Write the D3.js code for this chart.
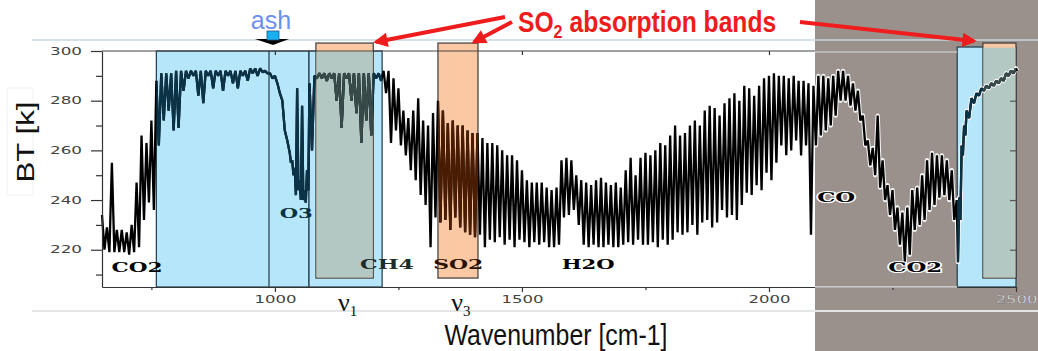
<!DOCTYPE html>
<html>
<head>
<meta charset="utf-8">
<script src="https://cdn.jsdelivr.net/npm/d3@7"></script>
<style>
  body { margin: 0; background: #fff; }
  svg { display: block; }
</style>
</head>
<body>
<svg id="chart" width="1038" height="351"></svg>
<script>
// spectrum: wavenumber [cm-1], upper envelope BT [K], dip BT [K]
const wavenumber = [
  650, 660, 670, 680, 690, 700, 710, 720, 730, 740, 750, 760, 770, 780, 790, 800, 810, 820, 830, 840,
  850, 860, 870, 880, 890, 900, 910, 920, 930, 940, 950, 960, 970, 980, 990, 1000, 1010, 1020, 1030, 1035,
  1040, 1045, 1050, 1055, 1060, 1065, 1070, 1080, 1090, 1100, 1110, 1120, 1130, 1140, 1150, 1160, 1170, 1180, 1190, 1200,
  1210, 1220, 1230, 1240, 1250, 1260, 1270, 1280, 1290, 1300, 1310, 1320, 1330, 1340, 1350, 1360, 1370, 1380, 1390, 1400,
  1410, 1420, 1430, 1440, 1450, 1460, 1470, 1480, 1490, 1500, 1510, 1520, 1530, 1540, 1550, 1560, 1570, 1580, 1590, 1600,
  1610, 1620, 1630, 1640, 1650, 1660, 1670, 1680, 1690, 1700, 1710, 1720, 1730, 1740, 1750, 1760, 1770, 1780, 1790, 1800,
  1810, 1820, 1830, 1840, 1850, 1860, 1870, 1880, 1890, 1900, 1910, 1920, 1930, 1940, 1950, 1960, 1970, 1980, 1990, 2000,
  2010, 2020, 2030, 2040, 2050, 2060, 2070, 2080, 2090, 2100, 2110, 2120, 2130, 2140, 2150, 2160, 2170, 2180, 2190, 2200,
  2210, 2220, 2230, 2240, 2250, 2260, 2270, 2280, 2290, 2300, 2310, 2320, 2330, 2340, 2350, 2360, 2370, 2380, 2385, 2390,
  2395, 2400, 2410, 2420, 2430, 2440, 2450, 2460, 2470, 2480, 2490, 2500
];
const btTop = [
  234, 229, 255, 228, 228, 227, 230, 247, 266, 263, 272, 288, 291, 291, 291, 292, 292, 292, 292, 292,
  292, 292, 292, 292, 292, 292, 292, 292, 292, 292, 293, 293, 293, 292, 291, 290, 283, 268, 259, 256,
  253, 285, 248, 278, 244, 252, 287, 290, 291, 291, 291, 291, 291, 291, 291, 291, 291, 291, 291, 291,
  291, 292, 292, 289, 285, 276, 273, 276, 281, 272, 270, 275, 280, 276, 271, 272, 270, 270, 268, 267,
  267, 265, 263, 263, 262, 260, 258, 258, 256, 252, 248, 247, 247, 247, 245, 244, 245, 256, 257, 256,
  250, 248, 247, 246, 248, 249, 247, 246, 247, 245, 252, 257, 250, 257, 259, 258, 260, 263, 262, 266,
  270, 266, 267, 270, 272, 270, 276, 278, 277, 274, 279, 281, 283, 280, 286, 285, 282, 286, 289, 290,
  291, 290, 290, 289, 290, 288, 288, 287, 286, 290, 290, 289, 290, 292, 292, 290, 287, 284, 274, 264,
  261, 274, 256, 246, 244, 237, 235, 237, 244, 245, 250, 256, 259, 258, 258, 256, 252, 240, 241, 262,
  270, 276, 281, 283, 285, 286, 287, 288, 289, 291, 292, 293
];
const btDip = [
  220, 219, 219, 219, 219, 218, 219, 221, 232, 239, 236, 262, 272, 276, 268, 269, 284, 289, 290, 282,
  279, 290, 285, 290, 284, 290, 287, 285, 290, 288, 291, 290, 291.5, 291, 289, 287, 280, 264, 255, 250,
  242, 244, 240, 240, 239, 244, 260, 289, 289, 288, 289, 280, 269, 289, 280, 275, 263, 272, 266, 289,
  288, 283, 263, 268, 262, 258, 252, 248, 242, 238, 221, 233, 231, 232, 228, 233, 229, 227, 226, 225,
  226, 221, 224, 223, 225, 222, 224, 221, 224, 223, 221, 223, 222, 223, 221, 221, 222, 233, 234, 236,
  230, 222, 221, 222, 221, 221, 222, 221, 221, 222, 223, 222, 224, 222, 222, 223, 221, 224, 222, 224,
  227, 226, 227, 230, 226, 231, 232, 229, 231, 236, 233, 234, 232, 238, 243, 242, 246, 244, 251, 248,
  255, 262, 258, 260, 264, 258, 262, 226, 262, 266, 268, 270, 274, 280, 280, 278, 276, 272, 262, 254,
  250, 245, 240, 234, 228, 222, 215, 218, 228, 230, 232, 236, 238, 241, 242, 240, 232, 215, 232, 258,
  266, 273, 279, 282, 284, 285, 286, 287, 288, 290, 291, 292
];

const yTicks = [220, 240, 260, 280, 300];
const yMinorTicks = [210, 230, 250, 270, 290];
const xTicks = [1000, 1500, 2000, 2500];
const xMinorTicks = [750, 1250, 1750, 2250];

// atmospheric window (blue) and SO2 bands (orange), in cm-1
const windowBands = [[760, 1069], [1069, 1217], [2381, 2500]];
const so2Bands = [[1083, 1199], [1330, 1411], [2433, 2500]];
const so2BandNames = ['1', '3', ''];
const ashWavenumber = 988;

const gasLabels = ['CO2', 'O3', 'CH4', 'SO2', 'H2O', 'CO', 'CO2'];
const gasLabelWn = [721, 1043, 1227, 1371, 1634, 2136, 2296];
const gasLabelBt = [213.0, 234.8, 214.3, 214.3, 214.3, 241.2, 213.0];

const svg = d3.select('#chart');
const x = d3.scaleLinear().domain([650, 2500]).range([102, 1016]);
const y = d3.scaleLinear().domain([205, 300]).range([287, 51]);
const greyX = 815;

// grey panel on the right
svg.append('rect').attr('x', greyX).attr('y', 0).attr('width', 1038 - greyX).attr('height', 351)
  .attr('fill', '#9b918c');

// light frame lines of the pasted plot
svg.append('line').attr('x1', 32).attr('x2', 1038).attr('y1', 40).attr('y2', 40)
  .attr('stroke', '#c6d7df').attr('stroke-width', 1.5);
svg.append('line').attr('x1', 32).attr('x2', 1038).attr('y1', 311).attr('y2', 311)
  .attr('stroke', '#e6e6e6').attr('stroke-width', 2);
svg.append('rect').attr('x', 7).attr('y', 88).attr('width', 26).attr('height', 107)
  .attr('fill', '#fff').attr('stroke', '#f2f2f2');

// bands
const blueTop = [300, 300, 301.6];
windowBands.forEach((b, i) => {
  svg.append('rect')
    .attr('x', x(b[0])).attr('y', y(blueTop[i]))
    .attr('width', x(b[1]) - x(b[0])).attr('height', y(205) - y(blueTop[i]))
    .attr('fill', '#b6e6fa').attr('stroke', '#1f3b4b').attr('stroke-width', 1.2);
});
so2Bands.forEach((b, i) => {
  svg.append('rect')
    .attr('x', x(b[0])).attr('y', y(303.2))
    .attr('width', x(b[1]) - x(b[0])).attr('height', y(208.6) - y(303.2))
    .attr('fill', '#fbc8a4').attr('stroke', '#3b3b3b').attr('stroke-width', 1.2);
  if (i !== 1) {
    const top = i === 0 ? 300 : 301.6;
    svg.append('rect')
      .attr('x', x(b[0]) + 0.6).attr('y', y(top) + 0.6)
      .attr('width', x(b[1]) - x(b[0]) - 1.2).attr('height', y(208.6) - y(top) - 1.2)
      .attr('fill', '#b4c8c3');
  }
});

// clip paths for the curve colours
const defs = svg.append('defs');
defs.append('clipPath').attr('id', 'clipGrey').append('rect')
  .attr('x', greyX).attr('y', 0).attr('width', 1038 - greyX).attr('height', 351);
const cb = defs.append('clipPath').attr('id', 'clipBlue');
windowBands.forEach(b => {
  cb.append('rect').attr('x', x(b[0])).attr('y', 0).attr('width', x(b[1]) - x(b[0])).attr('height', 351);
});
const cm = defs.append('clipPath').attr('id', 'clipMix');
[so2Bands[0], so2Bands[2]].forEach(b => {
  cm.append('rect').attr('x', x(b[0])).attr('y', 0).attr('width', x(b[1]) - x(b[0])).attr('height', 351);
});
defs.append('clipPath').attr('id', 'clipBrown').append('rect')
  .attr('x', x(so2Bands[1][0])).attr('y', 0)
  .attr('width', x(so2Bands[1][1]) - x(so2Bands[1][0])).attr('height', 351);

// spectrum as a zig-zag through envelope and dips
const points = [];
wavenumber.forEach((w, i) => {
  const next = i < wavenumber.length - 1 ? wavenumber[i + 1] : w + 5;
  points.push([w, btTop[i]]);
  points.push([(w + next) / 2, btDip[i]]);
});
const line = d3.line().x(d => x(d[0])).y(d => y(d[1]));
const curve = line(points);

svg.append('path').attr('d', curve).attr('clip-path', 'url(#clipGrey)')
  .attr('fill', 'none').attr('stroke', '#f4f4f4').attr('stroke-width', 4.4).attr('stroke-linejoin', 'round');
[['#000', null], ['#0a3347', 'clipBlue'], ['#3a4a48', 'clipMix'], ['#4a1c02', 'clipBrown']].forEach(c => {
  const p = svg.append('path').attr('d', curve)
    .attr('fill', 'none').attr('stroke', c[0]).attr('stroke-width', 2.3).attr('stroke-linejoin', 'bevel');
  if (c[1]) p.attr('clip-path', `url(#${c[1]})`);
});

// ash marker line
svg.append('line').attr('x1', x(ashWavenumber)).attr('x2', x(ashWavenumber))
  .attr('y1', y(300)).attr('y2', y(205)).attr('stroke', '#1f3b4b').attr('stroke-width', 1.2);

// axes
svg.append('line').attr('x1', 102).attr('x2', greyX).attr('y1', 51).attr('y2', 51)
  .attr('stroke', '#444').attr('stroke-width', 1.2);
svg.append('line').attr('x1', greyX).attr('x2', x(2381)).attr('y1', 52).attr('y2', 52)
  .attr('stroke', '#d9dde0').attr('stroke-width', 1.2);

function styleAxis(g, col) {
  g.selectAll('path, line').attr('stroke', col).attr('stroke-width', 1.2);
  g.selectAll('text').attr('fill', '#444').attr('font-family', 'DejaVu Sans, sans-serif')
    .attr('font-size', 10).attr('lengthAdjust', 'spacingAndGlyphs')
    .attr('textLength', d => String(d).length === 4 ? 42 : 32);
}

const yAxis = svg.append('g').attr('transform', 'translate(102,0)')
  .call(d3.axisLeft(y).tickValues(yTicks).tickSize(11).tickPadding(9).tickSizeOuter(0)
    .tickFormat(d3.format('d')));
styleAxis(yAxis, '#333');
const yMinor = svg.append('g').attr('transform', 'translate(102,0)')
  .call(d3.axisLeft(y).tickValues(yMinorTicks).tickSize(6).tickFormat(''));
yMinor.select('.domain').remove();
styleAxis(yMinor, '#333');

const xAxis = svg.append('g').attr('transform', 'translate(0,287)')
  .call(d3.axisBottom(x).tickValues(xTicks).tickSize(5).tickPadding(4).tickSizeOuter(0)
    .tickFormat(d3.format('d')));
styleAxis(xAxis, '#333');
xAxis.selectAll('.tick').filter(d => d === 2500).select('text')
  .attr('fill', '#f0f0f0').attr('stroke', '#666').attr('stroke-width', 0.3);
const xMinor = svg.append('g').attr('transform', 'translate(0,287)')
  .call(d3.axisBottom(x).tickValues(xMinorTicks).tickSize(3).tickFormat(''));
xMinor.select('.domain').remove();
styleAxis(xMinor, '#333');
svg.append('line').attr('x1', greyX).attr('x2', x(2381)).attr('y1', 287).attr('y2', 287)
  .attr('stroke', '#dcdcdc').attr('stroke-width', 1.4);

const xTop = svg.append('g').attr('transform', 'translate(0,51)')
  .call(d3.axisBottom(x).tickValues([1000, 1500, 2000]).tickSize(4).tickFormat(''));
xTop.select('.domain').remove();
styleAxis(xTop, '#333');
const yRight = svg.append('g').attr('transform', 'translate(1016,0)')
  .call(d3.axisLeft(y).tickValues([220, 240, 260, 280]).tickSize(6).tickFormat(''));
yRight.select('.domain').remove();
styleAxis(yRight, '#555');

// gas labels
const gasWidths = [51, 33, 54, 50, 53, 38, 54];
const gasColors = ['#000', '#0a3045', '#1d2b2a', '#2a1000', '#000', '#000', '#000'];
gasLabels.forEach((t, i) => {
  const txt = svg.append('text')
    .attr('x', x(gasLabelWn[i])).attr('y', y(gasLabelBt[i])).attr('dy', '0.36em')
    .attr('text-anchor', 'middle')
    .attr('font-family', 'DejaVu Serif, serif').attr('font-weight', 'bold').attr('font-size', 13)
    .attr('textLength', gasWidths[i]).attr('lengthAdjust', 'spacingAndGlyphs')
    .attr('fill', gasColors[i]).text(t);
  if (x(gasLabelWn[i]) > greyX) {
    txt.attr('stroke', '#fff').attr('stroke-width', 2.2).attr('paint-order', 'stroke');
  }
});

// nu labels under the SO2 bands
so2Bands.forEach((b, i) => {
  if (!so2BandNames[i]) return;
  const t = svg.append('text')
    .attr('x', x((b[0] + b[1]) / 2) + 3).attr('y', 311)
    .attr('text-anchor', 'middle')
    .attr('font-family', 'Liberation Serif, Times New Roman, serif').attr('font-size', 26)
    .attr('fill', '#111');
  t.append('tspan').text('\u03bd');
  t.append('tspan').attr('font-size', 15).attr('dy', 5).text(so2BandNames[i]);
});

// axis titles
svg.append('text').attr('x', 556).attr('y', 345).attr('text-anchor', 'middle')
  .attr('font-family', 'Liberation Sans, Arial, sans-serif').attr('font-size', 29)
  .attr('textLength', 223).attr('lengthAdjust', 'spacingAndGlyphs')
  .attr('fill', '#111').text('Wavenumber [cm-1]');
svg.append('text').attr('transform', 'translate(34,142) rotate(-90)').attr('text-anchor', 'middle')
  .attr('font-family', 'Liberation Sans, Arial, sans-serif').attr('font-size', 23)
  .attr('textLength', 81).attr('lengthAdjust', 'spacingAndGlyphs')
  .attr('fill', '#111').text('BT [k]');

// ash marker
svg.append('text').attr('x', 271).attr('y', 29).attr('text-anchor', 'middle')
  .attr('font-family', 'Liberation Sans, Arial, sans-serif').attr('font-size', 25)
  .attr('fill', '#6e8ff0').text('ash');
svg.append('path').attr('d', 'M255,39 L289,39 L273,45 Z').attr('fill', '#000');
svg.append('rect').attr('x', 267).attr('y', 31).attr('width', 12).attr('height', 9)
  .attr('fill', '#17b0f2').attr('stroke', '#1f5a80').attr('stroke-width', 0.8);

// SO2 title and arrows
defs.append('marker').attr('id', 'arrowhead').attr('viewBox', '0 0 10 10')
  .attr('refX', 8).attr('refY', 5).attr('markerWidth', 4).attr('markerHeight', 3.6)
  .attr('orient', 'auto')
  .append('path').attr('d', 'M0,0 L10,5 L0,10 Z').attr('fill', '#ee1c1c');
[[505, 17, 376, 42], [512, 22, 474, 42], [800, 22, 974, 41]].forEach(a => {
  svg.append('line').attr('x1', a[0]).attr('y1', a[1]).attr('x2', a[2]).attr('y2', a[3])
    .attr('stroke', '#ee1c1c').attr('stroke-width', 4).attr('marker-end', 'url(#arrowhead)');
});
const title = svg.append('text').attr('transform', 'translate(518,32) scale(0.85,1)')
  .attr('font-family', 'Liberation Sans, Arial, sans-serif').attr('font-weight', 'bold')
  .attr('font-size', 29).attr('fill', '#ee1c1c');
title.append('tspan').text('SO');
title.append('tspan').attr('font-size', 19).attr('dy', 6).text('2');
title.append('tspan').attr('dy', -6).text(' absorption bands');
</script>
</body>
</html>
